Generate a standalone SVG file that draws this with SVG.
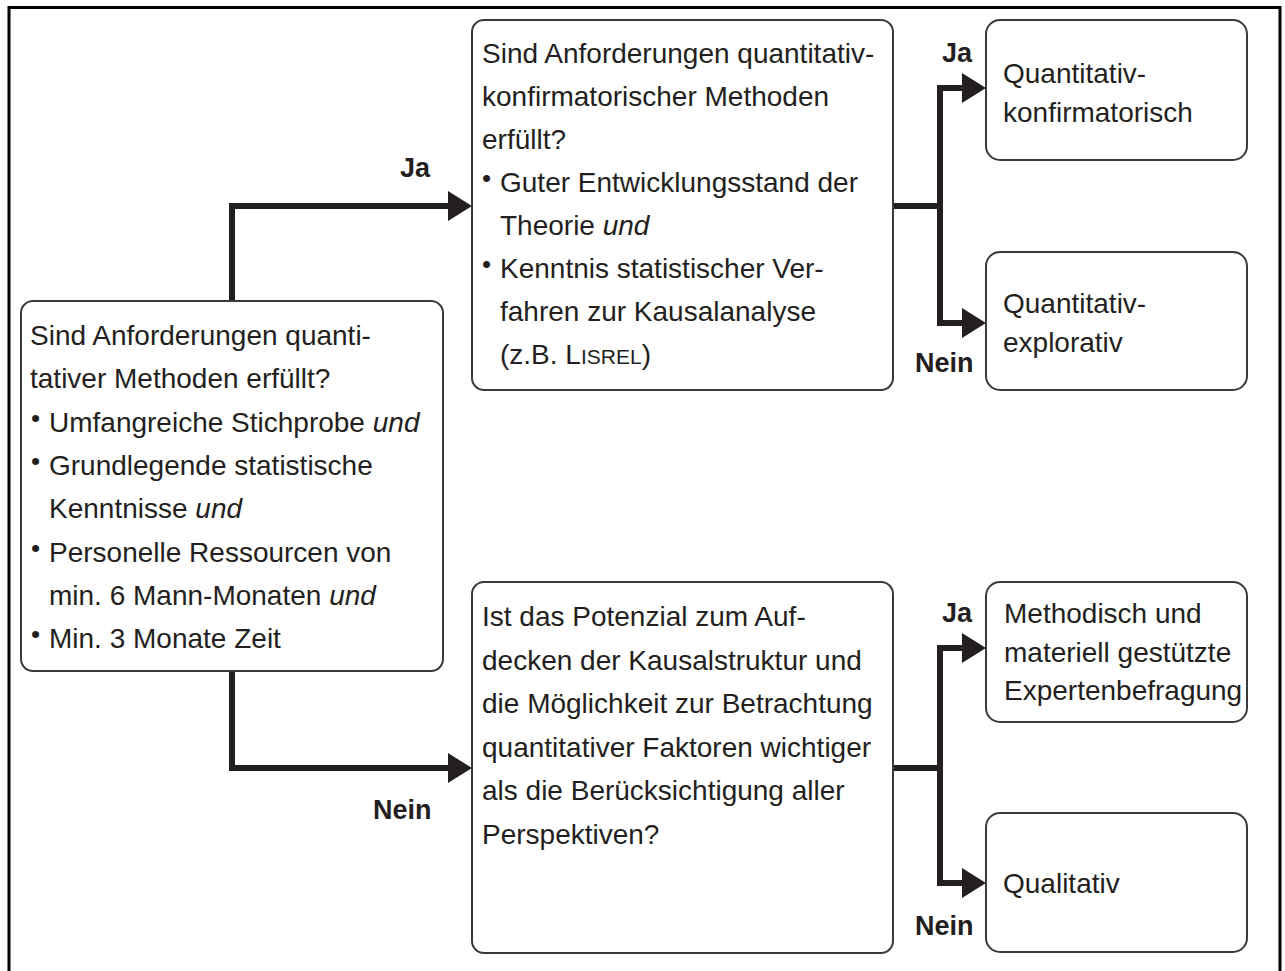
<svg xmlns="http://www.w3.org/2000/svg" width="1285" height="971" viewBox="0 0 1285 971">
<style>
.box{fill:#fff;stroke:#3a3a3a;stroke-width:2}
.t{font-family:"Liberation Sans",Arial,sans-serif;font-size:28px;fill:#231f20}
.lbl{font-family:"Liberation Sans",Arial,sans-serif;font-size:27px;font-weight:bold;fill:#231f20}
.b{font-size:26px}
.sc{font-size:21px}
.conn{fill:none;stroke:#231f20;stroke-width:6;stroke-linejoin:miter}
</style>
<defs>
<marker id="ah" markerUnits="userSpaceOnUse" markerWidth="24" markerHeight="30" refX="4" refY="15" orient="auto">
<path d="M0,0 L24,15 L0,30 z" fill="#231f20"/>
</marker>
</defs>
<rect x="0" y="0" width="1285" height="971" fill="#fff"/>
<path d="M9,975 V7.5 H1280 V975" fill="none" stroke="#000" stroke-width="3"/>

<g id="connectors">
<path class="conn" d="M232,301 V206 H452" marker-end="url(#ah)"/>
<path class="conn" d="M232,671 V768 H452" marker-end="url(#ah)"/>
<path class="conn" d="M893,206 H940"/>
<path class="conn" d="M966,88 H940 V323 H966" marker-end="url(#ah)"/>
<path class="conn" d="M940,88 H966" marker-end="url(#ah)"/>
<path class="conn" d="M893,768 H940"/>
<path class="conn" d="M966,648 H940 V883 H966" marker-end="url(#ah)"/>
<path class="conn" d="M940,648 H966" marker-end="url(#ah)"/>
<text class="lbl" x="400" y="177">Ja</text>
<text class="lbl" x="373" y="819">Nein</text>
<text class="lbl" x="942" y="62">Ja</text>
<text class="lbl" x="915" y="372">Nein</text>
<text class="lbl" x="942" y="622">Ja</text>
<text class="lbl" x="915" y="935">Nein</text>
</g>

<g id="n-start">
<rect class="box" x="21" y="301" width="422" height="370" rx="12"/>
<text class="t" x="30" y="345">Sind Anforderungen quanti-</text>
<text class="t" x="30" y="388">tativer Methoden erfüllt?</text>
<text class="t" x="31" y="427"><tspan class="b">•</tspan><tspan x="49" y="432">Umfangreiche Stichprobe <tspan font-style="italic">und</tspan></tspan></text>
<text class="t" x="31" y="470"><tspan class="b">•</tspan><tspan x="49" y="475">Grundlegende statistische</tspan></text>
<text class="t" x="49" y="518">Kenntnisse <tspan font-style="italic">und</tspan></text>
<text class="t" x="31" y="557"><tspan class="b">•</tspan><tspan x="49" y="562">Personelle Ressourcen von</tspan></text>
<text class="t" x="49" y="605">min. 6 Mann-Monaten <tspan font-style="italic">und</tspan></text>
<text class="t" x="31" y="643"><tspan class="b">•</tspan><tspan x="49" y="648">Min. 3 Monate Zeit</tspan></text>
</g>

<g id="n-konf">
<rect class="box" x="472" y="20" width="421" height="370" rx="12"/>
<text class="t" x="482" y="63">Sind Anforderungen quantitativ-</text>
<text class="t" x="482" y="106">konfirmatorischer Methoden</text>
<text class="t" x="482" y="149">erfüllt?</text>
<text class="t" x="482" y="187"><tspan class="b">•</tspan><tspan x="500" y="192">Guter Entwicklungsstand der</tspan></text>
<text class="t" x="500" y="235">Theorie <tspan font-style="italic">und</tspan></text>
<text class="t" x="482" y="273"><tspan class="b">•</tspan><tspan x="500" y="278">Kenntnis statistischer Ver-</tspan></text>
<text class="t" x="500" y="321">fahren zur Kausalanalyse</text>
<text class="t" x="500" y="364">(z.B. L<tspan class="sc">ISREL</tspan>)</text>
</g>

<g id="n-potenzial">
<rect class="box" x="472" y="582" width="421" height="371" rx="12"/>
<text class="t" x="482" y="626">Ist das Potenzial zum Auf-</text>
<text class="t" x="482" y="669.5">decken der Kausalstruktur und</text>
<text class="t" x="482" y="713">die Möglichkeit zur Betrachtung</text>
<text class="t" x="482" y="756.5">quantitativer Faktoren wichtiger</text>
<text class="t" x="482" y="800">als die Berücksichtigung aller</text>
<text class="t" x="482" y="843.5">Perspektiven?</text>
</g>

<g id="n-qk">
<rect class="box" x="986" y="20" width="261" height="140" rx="14"/>
<text class="t" x="1003" y="83">Quantitativ-</text>
<text class="t" x="1003" y="122">konfirmatorisch</text>
</g>

<g id="n-qe">
<rect class="box" x="986" y="252" width="261" height="138" rx="14"/>
<text class="t" x="1003" y="313">Quantitativ-</text>
<text class="t" x="1003" y="352">explorativ</text>
</g>

<g id="n-exp">
<rect class="box" x="986" y="582" width="261" height="140" rx="14"/>
<text class="t" x="1004" y="623">Methodisch und</text>
<text class="t" x="1004" y="662">materiell gestützte</text>
<text class="t" x="1004" y="700">Expertenbefragung</text>
</g>

<g id="n-qual">
<rect class="box" x="986" y="813" width="261" height="139" rx="14"/>
<text class="t" x="1003" y="893">Qualitativ</text>
</g>
</svg>
